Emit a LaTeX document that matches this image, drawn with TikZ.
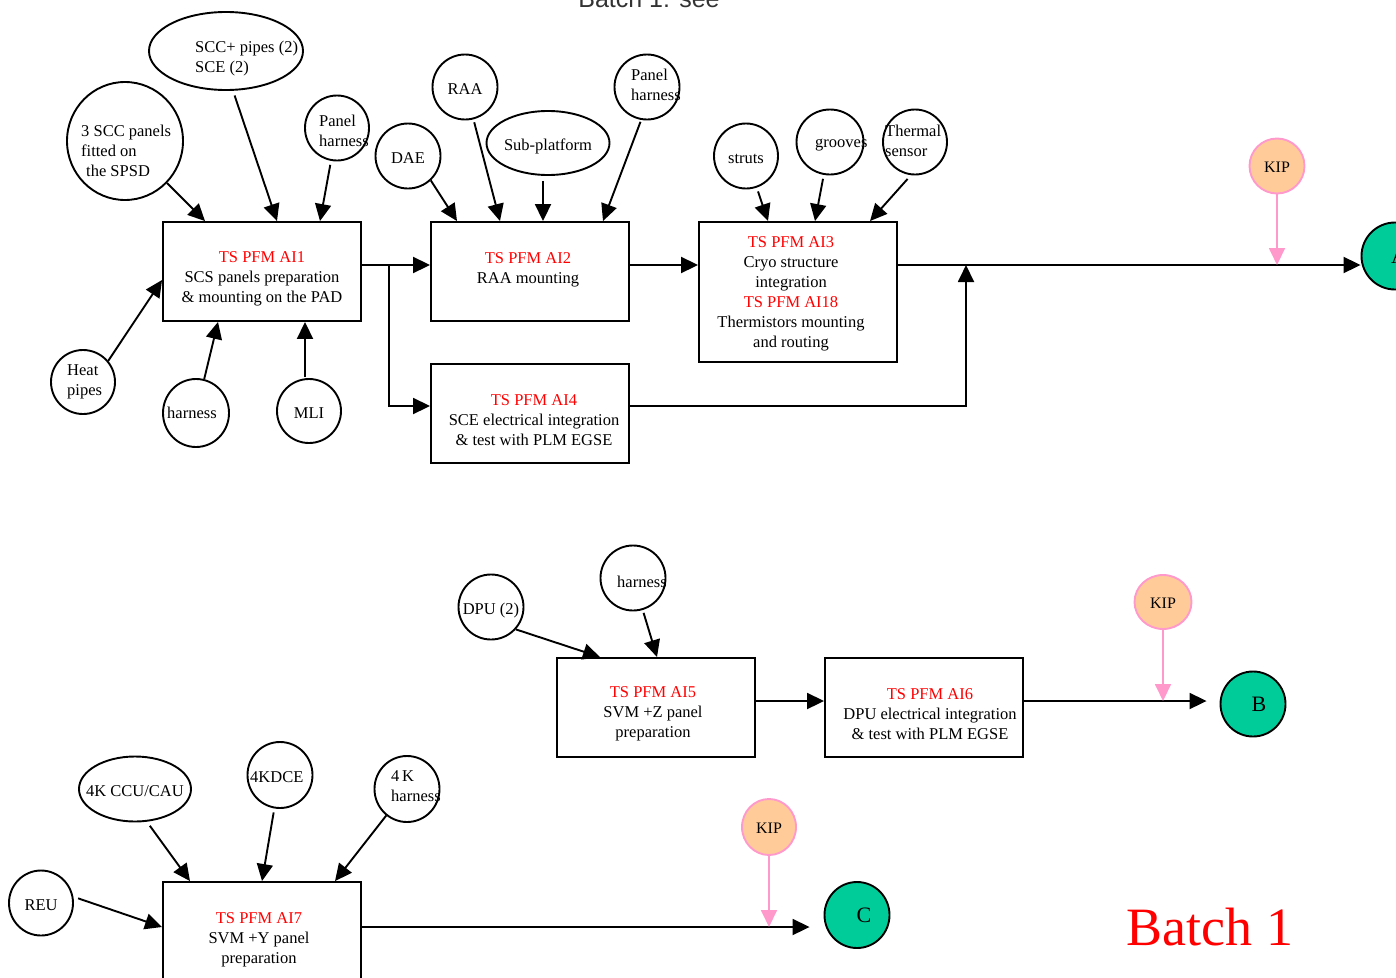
\documentclass[tikz,border=0pt]{standalone}
\usepackage{fontspec}
\setmainfont{Liberation Serif}
\setsansfont{Liberation Sans}
\usetikzlibrary{shapes.geometric,arrows.meta}
\definecolor{kpink}{HTML}{FF99CC}
\definecolor{kfill}{HTML}{FFCC99}
\definecolor{egreen}{HTML}{00CC99}
\newcommand\myfs{\fontsize{16.5}{20}\selectfont}
\newcommand\myfk{\fontsize{16}{18}\selectfont}
\newcommand\myfe{\fontsize{22}{24}\selectfont}
\newcommand\rd[1]{\textcolor{red}{#1}}
\newcommand\zw[1]{\makebox[0pt]{#1}}
\tikzset{
  ln/.style={line width=1.9pt},
  arr/.style={ln, -{Triangle[length=17pt,width=16pt]}},
  karr/.style={line width=1.9pt, draw=kpink, -{Triangle[length=17pt,width=16pt,fill=kpink]}},
  src/.style={ellipse, draw, line width=1.9pt, inner sep=0pt, font=\myfs, text height=14pt, text depth=0pt},
  box/.style={rectangle, draw, line width=1.9pt, minimum width=198pt, minimum height=99pt, inner sep=0pt},
  btxt/.style={align=center, inner sep=0pt, font=\myfs},
  ltxt/.style={align=left, inner sep=0pt, font=\myfs, anchor=west},
  kip/.style={ellipse, draw=kpink, fill=kfill, line width=1.9pt, inner sep=0pt, font=\myfk, text height=13pt, text depth=0pt},
  endc/.style={ellipse, draw, fill=egreen, line width=1.9pt, inner sep=0pt, font=\myfe}
}
\begin{document}
\begin{tikzpicture}[x=1pt,y=-1pt]
\useasboundingbox (0,0) rectangle (1396,977);
% title (cut at top)
\node[anchor=base, inner sep=0pt, font=\sffamily\fontsize{25}{25}\selectfont, text=black!80] (title) at (649,7) {Batch 1: see};

% ---------- boxes ----------
\node[box] (ai1) at (262,271.5) {};
\node[btxt] (ai1t) at (262,279) {\rd{TS PFM AI1}\\SCS panels preparation\\\&\ mounting on the PAD};
\node[box] (ai2) at (530,271.5) {};
\node[btxt] (ai2t) at (528,269.5) {\rd{TS PFM AI2}\\RAA mounting};
\node[box, minimum height=140pt] (ai3) at (798,292) {};
\node[btxt] (ai3t) at (791,294) {\rd{TS PFM AI3}\\Cryo structure\\integration\\\rd{TS PFM AI18}\\Thermistors mounting\\and routing};
\node[box] (ai4) at (530,413.5) {};
\node[btxt] (ai4t) at (534,420) {\rd{TS PFM AI4}\\SCE electrical integration\\\&\ test with PLM EGSE};
\node[box] (ai5) at (656,707.5) {};
\node[btxt] (ai5t) at (653,714) {\rd{TS PFM AI5}\\SVM +Z panel\\preparation};
\node[box] (ai6) at (924,707.5) {};
\node[btxt] (ai6t) at (930,714) {\rd{TS PFM AI6}\\DPU electrical integration\\\&\ test with PLM EGSE};
\node[box] (ai7) at (262,931.5) {};
\node[btxt] (ai7t) at (259,940) {\rd{TS PFM AI7}\\SVM +Y panel\\preparation};

% ---------- sources ----------
\node[src, minimum width=116pt, minimum height=118pt] (scc3) at (125,141) {};
\node[ltxt] (scc3t) at (81,151) {3 SCC panels\\fitted on\\\hspace*{5pt}the SPSD};
\node[src, minimum width=154pt, minimum height=78pt] (sccp) at (226,51) {};
\node[ltxt] (sccpt) at (195,58.5) {SCC+ pipes (2)\\SCE (2)};
\node[src, minimum width=64pt, minimum height=65pt] (ph1) at (337,128) {};
\node[ltxt] (ph1t) at (319,130.5) {Panel\\harness};
\node[src, minimum width=65pt, minimum height=65pt] (dae) at (408,156) {DAE};
\node[src, minimum width=65pt, minimum height=65pt] (raa) at (465,87) {RAA};
\node[src, minimum width=123pt, minimum height=64pt] (sub) at (548,143) {\zw{Sub-platform}};
\node[src, minimum width=65pt, minimum height=65pt] (ph2) at (647,87) {};
\node[ltxt] (ph2t) at (631,84.5) {Panel\\harness};
\node[src, minimum width=64pt, minimum height=64pt] (heat) at (83,382) {};
\node[ltxt] (heatt) at (67,381.5) {Heat\\pipes};
\node[src, minimum width=66pt, minimum height=68pt] (harn1) at (196,413) {};
\node[ltxt, text height=14pt] (harn1t) at (167,412) {harness};
\node[src, minimum width=64pt, minimum height=64pt] (mli) at (309,411) {MLI};
\node[src, minimum width=64pt, minimum height=65pt] (struts) at (746,156) {struts};
\node[src, minimum width=67pt, minimum height=65pt] (grooves) at (830,142) {};
\node[ltxt] (groovest) at (815,145) {grooves};
\node[src, minimum width=64pt, minimum height=65pt] (therm) at (915,142) {};
\node[ltxt] (thermt) at (885,141) {Thermal\\sensor};
\node[src, minimum width=65pt, minimum height=65pt] (dpu) at (491,607) {\zw{DPU (2)}};
\node[src, minimum width=65pt, minimum height=65pt] (harn5) at (633,578) {};
\node[ltxt, text height=14pt] (harn5t) at (617,581) {harness};
\node[src, minimum width=112pt, minimum height=65pt] (ccu) at (135,789) {\zw{4K CCU/CAU}};
\node[src, minimum width=65pt, minimum height=66pt] (dce) at (280,775) {};
\node[ltxt, text height=14pt] (dcet) at (250,776) {4KDCE};
\node[src, minimum width=65pt, minimum height=66pt] (kh) at (407,789) {};
\node[ltxt] (kht) at (391,786.5) {4\,K\\harness};
\node[src, minimum width=64pt, minimum height=65pt] (reu) at (41,903) {REU};

% ---------- KIPs and ends ----------
\node[kip, minimum width=55pt, minimum height=55pt] (kip1) at (1277,166) {KIP};
\node[kip, minimum width=57pt, minimum height=54pt] (kip2) at (1163,602) {KIP};
\node[kip, minimum width=54pt, minimum height=56pt] (kip3) at (769,827) {KIP};
\node[endc, minimum width=67pt, minimum height=67pt] (A) at (1395,256) {\hspace*{8pt}A};
\node[endc, minimum width=65pt, minimum height=65pt] (B) at (1253,704) {\hspace*{12pt}B};
\node[endc, minimum width=65pt, minimum height=66pt] (C) at (857,915) {\hspace*{14pt}C};

% ---------- coordinates ----------
\coordinate (a1o) at ([yshift=6.5pt]ai1.east);
\coordinate (a2o) at ([yshift=6.5pt]ai2.east);
\coordinate (a3o) at ([yshift=27pt]ai3.east);
\coordinate (a4o) at ([yshift=7.5pt]ai4.east);
\coordinate (a5o) at ([yshift=6.5pt]ai5.east);
\coordinate (a6o) at ([yshift=6.5pt]ai6.east);
\coordinate (a7o) at ([yshift=4.5pt]ai7.east);
\coordinate (br) at (389,265);
\coordinate (mrg) at (966,265);

% ---------- connectors ----------
\draw[arr] (scc3) -- ([xshift=-57pt]ai1.north);
\draw[arr, shorten <=5pt] (sccp.-80) -- ([xshift=15pt]ai1.north);
\draw[arr, shorten <=4pt] (ph1) -- ([xshift=58pt]ai1.north);
\draw[arr] (heat.40) -- ([yshift=-8.5pt]ai1.west);
\draw[arr] (harn1) -- ([xshift=-44pt]ai1.south);
\draw[arr, shorten <=1pt] ([xshift=-4pt]mli.north) -- ([xshift=43pt]ai1.south);
\draw[arr] (a1o) -- (a1o -| ai2.west);
\draw[arr] (br) |- ([yshift=7.5pt]ai4.west);

\draw[arr] (dae.-47) -- ([xshift=-73pt]ai2.north);
\draw[arr, shorten <=3pt] (raa) -- ([xshift=-30pt]ai2.north);
\draw[arr, shorten <=5pt] ([xshift=-5pt]sub.south) -- ([xshift=13pt]ai2.north);
\draw[arr, shorten <=2pt] (ph2.-100) -- ([xshift=73pt]ai2.north);
\draw[arr] (a2o) -- (a2o -| ai3.west);

\draw[arr, shorten <=4pt] (struts) -- ([xshift=-30pt]ai3.north);
\draw[arr, shorten <=4pt] (grooves) -- ([xshift=17pt]ai3.north);
\draw[arr, shorten <=5pt] (therm.-97) -- ([xshift=72pt]ai3.north);
\draw[arr] (a3o) -- (a3o -| A.west);
\draw[arr] (a4o) -| (mrg);
\draw[karr] (kip1) -- (kip1 |- a3o);

\draw[arr] (dpu.-42) -- ([xshift=-56pt]ai5.north);
\draw[arr, shorten <=3pt] (harn5) -- ([xshift=1pt]ai5.north);
\draw[arr] (a5o) -- (a5o -| ai6.west);
\draw[arr, shorten >=13pt] (a6o) -- (a6o -| B.west);
\draw[karr] (kip2) -- (kip2 |- a6o);

\draw[arr, shorten <=5pt] (ccu.-70) -- ([xshift=-72pt]ai7.north);
\draw[arr, shorten <=4pt] (dce) -- (ai7.north);
\draw[arr] (kh) -- ([xshift=73pt]ai7.north);
\draw[arr, shorten <=5pt] (reu.11) -- ([yshift=4.5pt]ai7.west);
\draw[arr, shorten >=14pt] (a7o) -- (a7o -| C.west);
\draw[karr] (kip3) -- (kip3 |- a7o);

% ---------- Batch 1 ----------
\node[inner sep=0pt, text=red, font=\fontsize{54}{54}\selectfont, anchor=base] (batch) at (1210,945) {Batch 1};
\end{tikzpicture}
\end{document}
